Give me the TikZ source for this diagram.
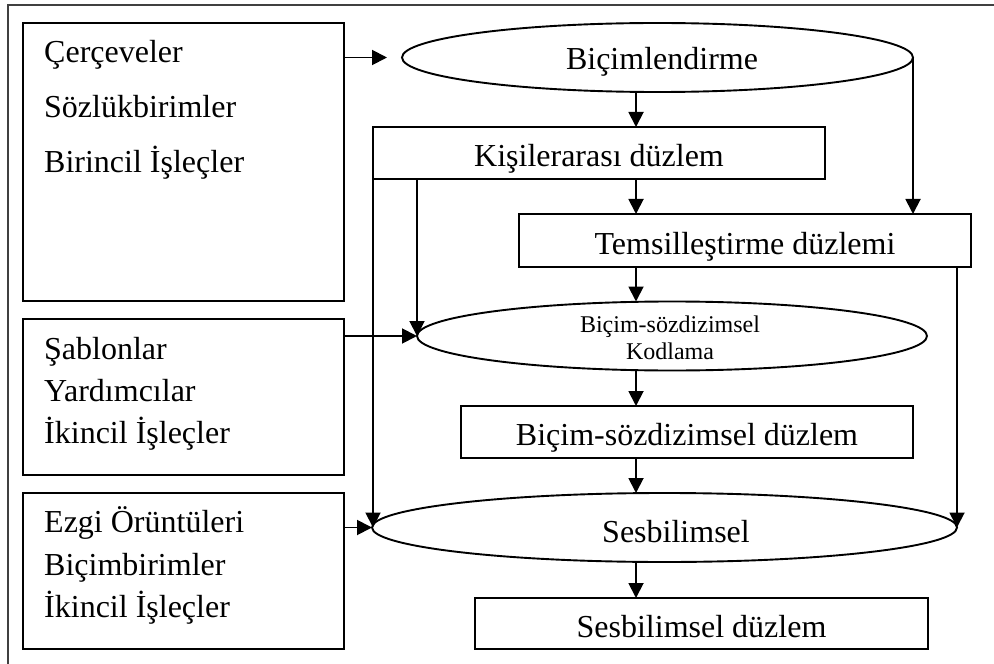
\documentclass[tikz,border=0pt]{standalone}
\usepackage{fontspec}
\setmainfont{Liberation Serif}
\usetikzlibrary{arrows.meta,shapes.geometric}

\tikzset{
  ln/.style={line width=1.9bp, black},
  arr/.style={ln, -{Triangle[length=15bp,width=15bp]}},
  bigtxt/.style={font=\fontsize{32bp}{38bp}\selectfont, inner sep=0pt},
  smalltxt/.style={font=\fontsize{24bp}{27bp}\selectfont, inner sep=0pt},
  srcbox/.style={ln, draw, rectangle, minimum width=321bp, inner sep=0pt, outer sep=0pt},
  planebox/.style={ln, draw, rectangle, inner sep=0pt, outer sep=0pt,
    font=\fontsize{32bp}{38bp}\selectfont, text height=30bp, text depth=3bp},
  stage/.style={ln, draw, ellipse, inner sep=0pt, outer sep=0pt},
  leftline/.style={bigtxt, anchor=base west}
}

\begin{document}
\begin{tikzpicture}[x=1bp,y=-1bp]
\useasboundingbox (0,0) rectangle (994,664);
\fill[white] (0,0) rectangle (994,664);

% outer frame, only its top and left sides fall inside the page
\begin{scope}
  \clip (0,0) rectangle (994,664);
  \draw[line width=1.9bp, black!75] (8,5) rectangle (1020,700);
\end{scope}

% source boxes on the left
\node[srcbox, minimum height=278bp] (b1) at (183.5,162) {};
\node[srcbox, minimum height=156bp] (b2) at (183.5,397) {};
\node[srcbox, minimum height=156bp] (b3) at (183.5,571) {};

\node[leftline] (b1a) at (44,63)  {Çerçeveler};
\node[leftline] (b1b) at (44,118) {Sözlükbirimler};
\node[leftline] (b1c) at (44,173) {Birincil İşleçler};

\node[leftline] (b2a) at (44,359) {Şablonlar};
\node[leftline] (b2b) at (44,401) {Yardımcılar};
\node[leftline] (b2c) at (44,443) {İkincil İşleçler};

\node[leftline] (b3a) at (44,532) {Ezgi Örüntüleri};
\node[leftline] (b3b) at (44,575) {Biçimbirimler};
\node[leftline] (b3c) at (44,617) {İkincil İşleçler};

% processing stages
\node[stage, minimum width=511bp, minimum height=69bp] (e1) at (657.5,57.5) {};
\node[bigtxt, anchor=base] (e1t) at (662,70) {Biçimlendirme};

\node[stage, minimum width=510bp, minimum height=69bp] (e2) at (672,336) {};
\node[smalltxt, anchor=base] (e2a) at (670,332) {Biçim-sözdizimsel};
\node[smalltxt, anchor=base] (e2b) at (670,359) {Kodlama};

\node[stage, minimum width=585bp, minimum height=69bp] (e3) at (664.5,527.5) {};
\node[bigtxt, anchor=base] (e3t) at (676,542) {Sesbilimsel};

% planes
\node[planebox, minimum width=452bp, minimum height=52bp] (k)  at (599,153)   {Kişilerarası düzlem};
\node[planebox, minimum width=452bp, minimum height=53bp] (t)  at (745,240.5) {Temsilleştirme düzlemi};
\node[planebox, minimum width=452bp, minimum height=52bp] (bs) at (687,432)   {Biçim-sözdizimsel düzlem};
\node[planebox, minimum width=453bp, minimum height=51bp] (sd) at (701.5,623.5) {Sesbilimsel düzlem};

% main column of arrows
\coordinate (col) at (636,0);
\draw[arr] (col |- e1.south) -- (col |- k.north);
\draw[arr] (col |- k.south)  -- (col |- t.north);
\draw[arr] (col |- t.south)  -- (col |- e2.north);
\draw[arr] (col |- e2.south) -- (col |- bs.north);
\draw[arr] (col |- bs.south) -- (col |- e3.north);
\draw[arr] (col |- e3.south) -- (col |- sd.north);

% inputs from the source boxes
\draw[arr, shorten >=15bp] (b1.east |- e1.west) -- (e1.west);
\draw[arr] (b2.east |- e2.west) -- (e2.west);
\draw[arr] (b3.east |- e3.west) -- (e3.west);

% side branches
\draw[arr] (e1.east) -- (e1.east |- t.north);
\draw[arr] (k.south west) -- (k.south west |- e3.west);
\draw[arr] (k.south -| e2.west) -- (e2.west);
\draw[arr] (t.south -| e3.east) -- (e3.east);
\end{tikzpicture}
\end{document}
